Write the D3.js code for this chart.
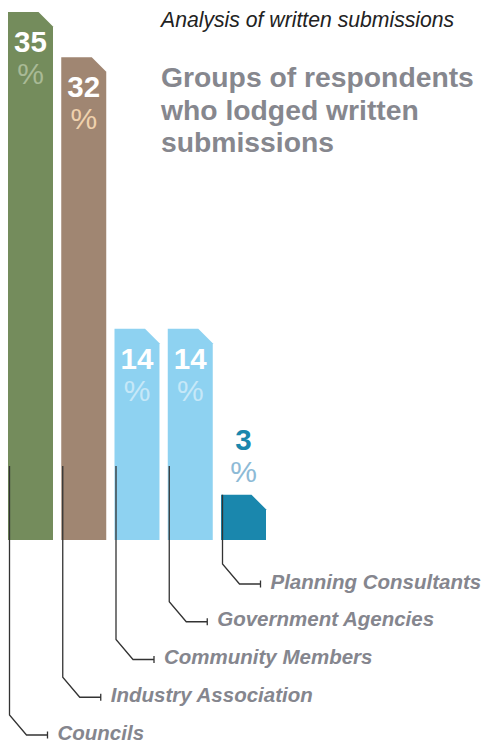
<!DOCTYPE html>
<html><head><meta charset="utf-8">
<script src="https://cdn.jsdelivr.net/npm/d3@7"></script>
<style>body{margin:0;background:#fff}svg{display:block}</style>
</head><body><svg id="c" width="488" height="744"></svg>
<script>
const categories = ["Councils","Industry Association","Community Members","Government Agencies","Planning Consultants"];
const values = [35, 32, 14, 14, 3];
const barColors = ["#748c5c","#a08672","#8ed2f1","#8ed2f1","#1a87ad"];
const pctColors = ["#a9ba96","#f0d2ad","#c6e8f8","#c6e8f8","#8dbad6"];
const numColors = ["#ffffff","#ffffff","#ffffff","#ffffff","#1a87ad"];
const subtitle = "Analysis of written submissions";
const titleLines = ["Groups of respondents","who lodged written","submissions"];

const data = categories.map((c,i)=>({cat:c, v:values[i], i}));
const svg = d3.select("#c");
const font = "'Liberation Sans', Arial, Helvetica, sans-serif";

const x = d3.scaleBand().domain(categories).range([8,266]).paddingInner(0.155).paddingOuter(0);
const y = d3.scaleLinear().domain([0,35]).range([540,12]);
const ly = d3.scalePoint().domain(categories.slice().reverse()).range([584,735]);

// titles
svg.append("text").attr("x",161).attr("y",27)
  .attr("font-family",font).attr("font-style","italic").attr("font-size",21.2)
  .attr("fill","#222").text(subtitle);
svg.append("g").selectAll("text").data(titleLines).join("text")
  .attr("x",161).attr("y",(d,i)=>87+i*32.5)
  .attr("font-family",font).attr("font-weight","bold").attr("font-size",28.3)
  .attr("fill","#86878e").text(d=>d);

// bars with chamfered top-right corner
const cham = 14.5;
svg.append("g").selectAll("path").data(data).join("path")
  .attr("fill",d=>barColors[d.i])
  .attr("d",d=>{
    const l=x(d.cat), r=l+x.bandwidth(), t=y(d.v), b=y(0);
    const c=Math.min(cham, b-t);
    return `M${l},${b}L${l},${t}L${r-c},${t}L${r},${t+c}L${r},${b}Z`;
  });

// value labels
const lab = svg.append("g").selectAll("g").data(data).join("g")
  .attr("transform",d=>{
    const cx = x(d.cat)+x.bandwidth()/2;
    const inside = (y(0)-y(d.v))>100;
    const base = inside ? y(d.v)+40 : y(d.v)-45;
    return `translate(${cx},${base})`;
  });
lab.append("text").attr("text-anchor","middle")
  .attr("font-family",font).attr("font-weight","bold").attr("font-size",29.5)
  .attr("fill",d=>numColors[d.i]).text(d=>d.v);
lab.append("text").attr("text-anchor","middle").attr("y",32)
  .attr("font-family",font).attr("font-size",30)
  .attr("fill",d=>pctColors[d.i]).text("%");

// leader lines
const lead = svg.append("g").attr("stroke","#333").attr("stroke-width",1.3).attr("fill","none");
lead.selectAll("path").data(data).join("path")
  .attr("d",d=>{
    const lx = x(d.cat)+1.5;
    const y0 = Math.max(y(d.v), 466);
    const yy = ly(d.cat);
    return `M${lx},${y0}L${lx},${yy-20}L${lx+17},${yy}L${lx+38},${yy}M${lx+38},${yy-3.5}L${lx+38},${yy+3.5}`;
  });

// category labels
svg.append("g").selectAll("text").data(data).join("text")
  .attr("x",d=>x(d.cat)+1.5+48).attr("y",d=>ly(d.cat)+4.5)
  .attr("font-family",font).attr("font-weight","bold").attr("font-style","italic")
  .attr("font-size",20.5).attr("fill","#85868e").text(d=>d.cat);
</script></body></html>
